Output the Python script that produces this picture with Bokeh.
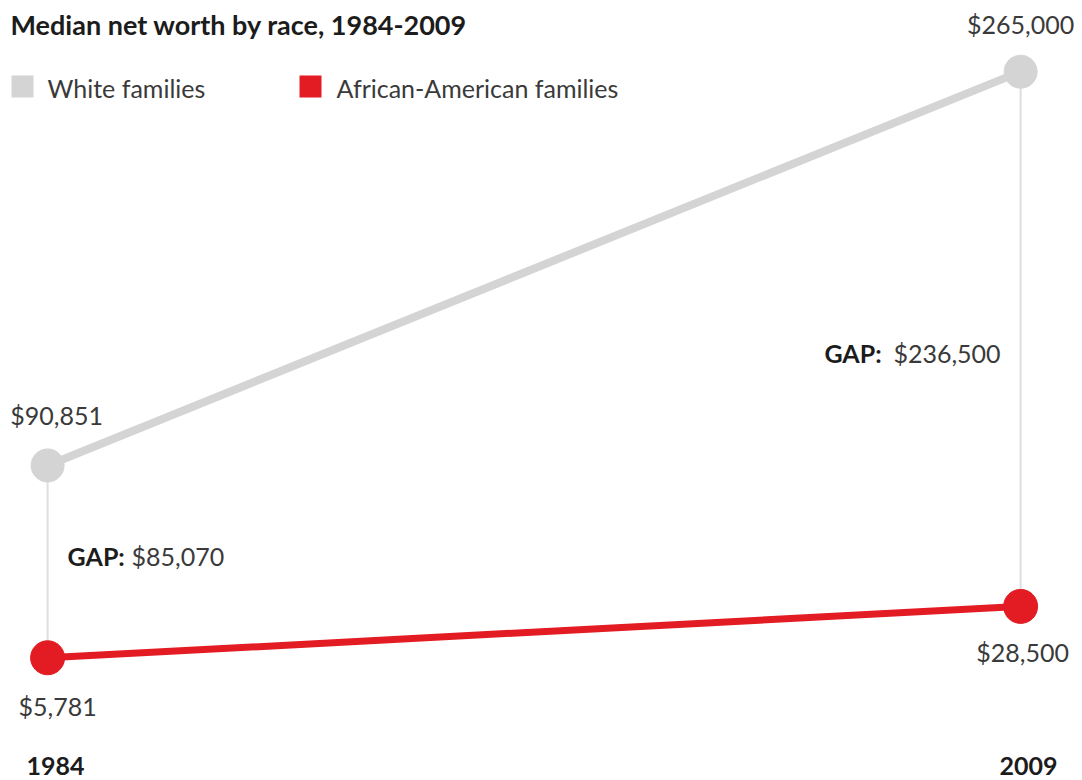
from bokeh.plotting import figure
from bokeh.models import Range1d, Label, BoxAnnotation
from bokeh.core.properties import value
from bokeh.embed import file_html
from bokeh.resources import INLINE

# Median net worth (US$) by race
years = [1984, 2009]
year_labels = ["1984", "2009"]
white = [90851, 265000]
black = [5781, 28500]
series_names = ["White families", "African-American families"]
title_text = "Median net worth by race, 1984-2009"

GRAY = "#d4d4d4"
RED = "#e31b23"
GAP_LINE = "#dedede"
TEXT = "#3a3a3a"
DARK = "#1c1c1c"
FONT = "Lato"
FS = "25px"

W, H = 1082, 780
p = figure(width=W, height=H, output_backend="svg", toolbar_location=None,
           x_range=Range1d(1982.79, 2010.59), y_range=Range1d(-48500, 296500),
           min_border=0, outline_line_color=None)
p.xaxis.visible = False
p.yaxis.visible = False
p.xgrid.visible = False
p.ygrid.visible = False
p.background_fill_color = "white"
p.border_fill_color = "white"

# vertical gap connectors
p.segment(x0=years, y0=white, x1=years, y1=black, line_color=GAP_LINE, line_width=2)

# series lines and end points
p.line(years, white, line_color=GRAY, line_width=8)
p.line(years, black, line_color=RED, line_width=7)
p.scatter(years, white, size=33, color=GRAY)
p.scatter(years, black, size=34, color=RED)

def money(v):
    return "${:,}".format(v)

common = dict(text_font=value(FONT), text_font_size=FS, text_color=TEXT,
              text_align="center", text_baseline="middle")

# value labels
p.text(x=[years[0]], y=[white[0]], text=[money(white[0])], x_offset=9, y_offset=-50, **common)
p.text(x=[years[1]], y=[white[1]], text=[money(white[1])], x_offset=0, y_offset=-48, **common)
p.text(x=[years[0]], y=[black[0]], text=[money(black[0])], x_offset=10, y_offset=48, **common)
p.text(x=[years[1]], y=[black[1]], text=[money(black[1])], x_offset=2, y_offset=46, **common)

# gap annotations
gaps = [w - b for w, b in zip(white, black)]
mids = [(w + b) / 2 for w, b in zip(white, black)]
bold = dict(text_font=value(FONT), text_font_size=FS, text_color=DARK,
            text_font_style="bold", text_baseline="middle")
reg = dict(text_font=value(FONT), text_font_size=FS, text_color=TEXT,
           text_baseline="middle")
p.text(x=[years[0]], y=[mids[0]], text=["GAP:"], x_offset=20, y_offset=-6,
       text_align="left", **bold)
p.text(x=[years[0]], y=[mids[0]], text=[money(gaps[0])], x_offset=84, y_offset=-6,
       text_align="left", **reg)
p.text(x=[years[1]], y=[mids[1]], text=["GAP:"], x_offset=-139, y_offset=14,
       text_align="right", **bold)
p.text(x=[years[1]], y=[mids[1]], text=[money(gaps[1])], x_offset=-20, y_offset=14,
       text_align="right", **reg)

# year labels along the bottom
for yr, lab in zip(years, year_labels):
    p.add_layout(Label(x=yr, y=15, x_units="data", y_units="screen", text=lab,
                       x_offset=8, text_align="center", text_baseline="middle",
                       text_font=FONT, text_font_size=FS, text_font_style="bold",
                       text_color=DARK))

# title
p.add_layout(Label(x=10, y=H - 24, x_units="screen", y_units="screen", text=title_text,
                   text_align="left", text_baseline="middle", text_font=FONT,
                   text_font_size="27px", text_font_style="bold", text_color=DARK))

# legend: square swatches with labels
swatches = [(11, GRAY, 47), (299, RED, 336)]
for (sx, col, lx), name in zip(swatches, series_names):
    p.add_layout(BoxAnnotation(left=sx, right=sx + 22, top=H - 75, bottom=H - 97,
                               left_units="screen", right_units="screen",
                               top_units="screen", bottom_units="screen",
                               fill_color=col, fill_alpha=1, line_color=None))
    p.add_layout(Label(x=lx, y=H - 87, x_units="screen", y_units="screen", text=name,
                       text_align="left", text_baseline="middle", text_font=FONT,
                       text_font_size=FS, text_color=TEXT))

open("out.html", "w").write(file_html(p, INLINE))
